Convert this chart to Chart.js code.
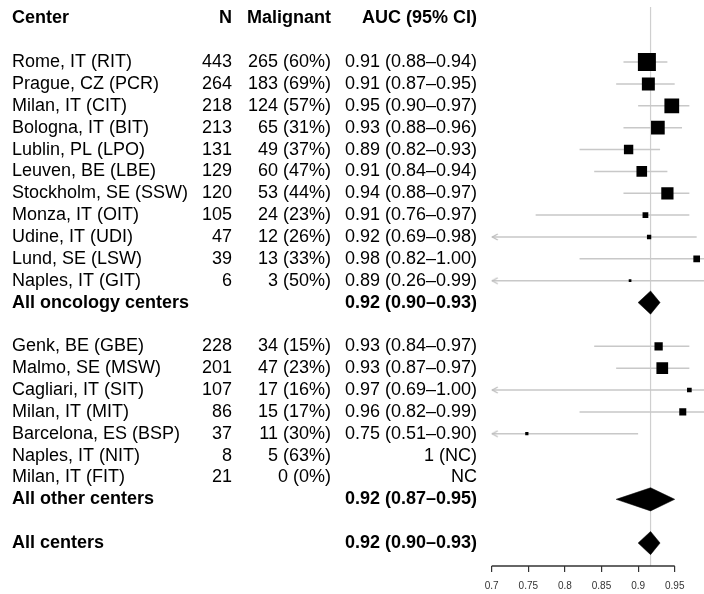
<!DOCTYPE html>
<html>
<head>
<meta charset="utf-8">
<script src="https://cdn.jsdelivr.net/npm/chart.js@4"></script>
<style>
  html, body { margin: 0; padding: 0; background: #fff; }
</style>
</head>
<body>
<canvas id="forestChart" width="704" height="594"></canvas>
<script>
// ----------------- Data -----------------
const oncologyCenters = ['Rome, IT (RIT)', 'Prague, CZ (PCR)', 'Milan, IT (CIT)', 'Bologna, IT (BIT)',
  'Lublin, PL (LPO)', 'Leuven, BE (LBE)', 'Stockholm, SE (SSW)', 'Monza, IT (OIT)',
  'Udine, IT (UDI)', 'Lund, SE (LSW)', 'Naples, IT (GIT)'];
const oncologyN = [443, 264, 218, 213, 131, 129, 120, 105, 47, 39, 6];
const oncologyMalignant = ['265 (60%)', '183 (69%)', '124 (57%)', '65 (31%)', '49 (37%)', '60 (47%)',
  '53 (44%)', '24 (23%)', '12 (26%)', '13 (33%)', '3 (50%)'];
const oncologyAucText = ['0.91 (0.88\u20130.94)', '0.91 (0.87\u20130.95)', '0.95 (0.90\u20130.97)',
  '0.93 (0.88\u20130.96)', '0.89 (0.82\u20130.93)', '0.91 (0.84\u20130.94)', '0.94 (0.88\u20130.97)',
  '0.91 (0.76\u20130.97)', '0.92 (0.69\u20130.98)', '0.98 (0.82\u20131.00)', '0.89 (0.26\u20130.99)'];
const oncologyAuc = [0.912, 0.914, 0.946, 0.927, 0.887, 0.905, 0.940, 0.910, 0.915, 0.980, 0.889];
const oncologyLower = [0.88, 0.87, 0.90, 0.88, 0.82, 0.84, 0.88, 0.76, 0.69, 0.82, 0.26];
const oncologyUpper = [0.94, 0.95, 0.97, 0.96, 0.93, 0.94, 0.97, 0.97, 0.98, 1.00, 0.99];
const oncologyWeight = [1.00, 0.72, 0.82, 0.76, 0.52, 0.59, 0.68, 0.32, 0.24, 0.37, 0.15];

const otherCenters = ['Genk, BE (GBE)', 'Malmo, SE (MSW)', 'Cagliari, IT (SIT)', 'Milan, IT (MIT)',
  'Barcelona, ES (BSP)', 'Naples, IT (NIT)', 'Milan, IT (FIT)'];
const otherN = [228, 201, 107, 86, 37, 8, 21];
const otherMalignant = ['34 (15%)', '47 (23%)', '17 (16%)', '15 (17%)', '11 (30%)', '5 (63%)', '0 (0%)'];
const otherAucText = ['0.93 (0.84\u20130.97)', '0.93 (0.87\u20130.97)', '0.97 (0.69\u20131.00)',
  '0.96 (0.82\u20130.99)', '0.75 (0.51\u20130.90)', '1 (NC)', 'NC'];
const otherAuc = [0.928, 0.933, 0.970, 0.961, 0.748, null, null];
const otherLower = [0.84, 0.87, 0.69, 0.82, 0.51, null, null];
const otherUpper = [0.97, 0.97, 1.00, 0.99, 0.90, null, null];
const otherWeight = [0.46, 0.65, 0.26, 0.39, 0.18, null, null];

const summaryLabels = ['All oncology centers', 'All other centers', 'All centers'];
const summaryAucText = ['0.92 (0.90\u20130.93)', '0.92 (0.87\u20130.95)', '0.92 (0.90\u20130.93)'];
const summaryAuc = [0.917, 0.917, 0.917];
const summaryLower = [0.90, 0.87, 0.90];
const summaryUpper = [0.93, 0.95, 0.93];

const headers = ['Center', 'N', 'Malignant', 'AUC (95% CI)'];
const xTicks = [0.7, 0.75, 0.8, 0.85, 0.9, 0.95];
const refAuc = 0.917;

// ----------------- Rows -----------------
const rows = [];
let pos = 0;
function addCenters(names, n, mal, txt, auc, lo, hi, w) {
  names.forEach((name, i) => {
    rows.push({ y: pos++, name, n: n[i], mal: mal[i], txt: txt[i], auc: auc[i], lo: lo[i], hi: hi[i], w: w[i] });
  });
}
function addSummary(i) {
  rows.push({ y: pos++, name: summaryLabels[i], txt: summaryAucText[i], auc: summaryAuc[i],
    lo: summaryLower[i], hi: summaryUpper[i], summary: true });
}
addCenters(oncologyCenters, oncologyN, oncologyMalignant, oncologyAucText, oncologyAuc, oncologyLower, oncologyUpper, oncologyWeight);
addSummary(0);
pos++;
addCenters(otherCenters, otherN, otherMalignant, otherAucText, otherAuc, otherLower, otherUpper, otherWeight);
addSummary(1);
pos++;
addSummary(2);

const headerRow = -2;
const yMin = -2.52, yMax = 23.05;
const xMin = 0.7, xMax = 0.99;
const boxSide = 18;       // px side of the heaviest box
const diamondHalf = 0.53; // half height of summary diamonds, in rows

// ----------------- Datasets -----------------
const studyRows = rows.filter(r => !r.summary && r.auc != null);

const ciData = [];
studyRows.forEach(r => {
  ciData.push({ x: r.lo, y: r.y }, { x: r.hi, y: r.y }, { x: null, y: null });
});

const arrowRows = studyRows.filter(r => r.lo < xMin);

// little "<" head, tip at the centre of the image
const arrowImg = document.createElement('canvas');
arrowImg.width = 14;
arrowImg.height = 8;
const actx = arrowImg.getContext('2d');
actx.strokeStyle = '#bdbdbd';
actx.lineWidth = 1.2;
actx.beginPath();
actx.moveTo(13, 1);
actx.lineTo(7.5, 4);
actx.lineTo(13, 7);
actx.stroke();

const datasets = [
  {
    type: 'scatter',
    data: studyRows.map(r => ({ x: r.auc, y: r.y })),
    pointStyle: 'rect',
    pointRadius: studyRows.map(r => r.w * boxSide / 1.414),
    backgroundColor: '#000',
    borderWidth: 0,
    order: 1
  },
  ...rows.filter(r => r.summary).map(r => ({
    type: 'line',
    data: [
      { x: r.lo, y: r.y }, { x: r.auc, y: r.y - diamondHalf },
      { x: r.hi, y: r.y }, { x: r.auc, y: r.y + diamondHalf }, { x: r.lo, y: r.y }
    ],
    borderColor: '#000',
    borderWidth: 0.5,
    backgroundColor: '#000',
    fill: 'shape',
    pointRadius: 0,
    tension: 0,
    order: 1
  })),
  {
    type: 'scatter',
    data: arrowRows.map(r => ({ x: xMin, y: r.y })),
    pointStyle: arrowImg,
    pointRadius: 4,
    order: 2
  },
  {
    type: 'line',
    data: ciData,
    borderColor: '#c8c8c8',
    borderWidth: 1.5,
    pointRadius: 0,
    spanGaps: false,
    order: 3
  },
  {
    type: 'line',
    data: [{ x: refAuc, y: yMin }, { x: refAuc, y: yMax }],
    borderColor: '#cfcfcf',
    borderWidth: 1.2,
    pointRadius: 0,
    order: 4
  }
];

// ----------------- Text columns + axis line -----------------
const FONT = '"Liberation Sans", Arial, Helvetica, sans-serif';
const tablePlugin = {
  id: 'forestTable',
  afterDraw(chart) {
    const c = chart.ctx;
    const ys = chart.scales.y;
    const xs = chart.scales.x;

    // axis line only across the tick range
    c.save();
    c.strokeStyle = '#333';
    c.lineWidth = 1.5;
    c.beginPath();
    c.moveTo(xs.getPixelForValue(xTicks[0]), xs.top);
    c.lineTo(xs.getPixelForValue(xTicks[xTicks.length - 1]), xs.top);
    c.stroke();

    c.fillStyle = '#000';
    c.textBaseline = 'middle';
    const colX = [12, 232, 331, 477];
    const hy = ys.getPixelForValue(headerRow);
    c.font = 'bold 18px ' + FONT;
    headers.forEach((h, i) => {
      c.textAlign = i === 0 ? 'left' : 'right';
      c.fillText(h, colX[i], hy);
    });

    rows.forEach(r => {
      const py = ys.getPixelForValue(r.y);
      c.font = (r.summary ? 'bold ' : '') + '18px ' + FONT;
      c.textAlign = 'left';
      c.fillText(r.name, colX[0], py);
      c.textAlign = 'right';
      if (r.n != null) c.fillText(String(r.n), colX[1], py);
      if (r.mal) c.fillText(r.mal, colX[2], py);
      c.fillText(r.txt, colX[3], py);
    });
    c.restore();
  }
};

// ----------------- Chart -----------------
const ctx = document.getElementById('forestChart').getContext('2d');
new Chart(ctx, {
  data: { datasets },
  options: {
    responsive: false,
    animation: false,
    devicePixelRatio: 1,
    events: [],
    layout: { autoPadding: false, padding: { left: 491.7, top: 7, right: 0, bottom: 0 } },
    plugins: { legend: { display: false }, tooltip: { enabled: false } },
    scales: {
      x: {
        type: 'linear',
        min: xMin,
        max: xMax,
        border: { display: false },
        grid: { display: true, drawOnChartArea: false, drawTicks: true, tickLength: 6, color: '#333', lineWidth: 1.2 },
        ticks: {
          autoSkip: false,
          maxRotation: 0,
          padding: 8,
          color: '#333',
          font: { family: FONT, size: 10 },
          callback: v => String(v)
        },
        afterBuildTicks: scale => { scale.ticks = xTicks.map(v => ({ value: v })); },
        afterFit: scale => {
          scale.height = 28;
          scale.paddingLeft = 0;
          scale.paddingRight = 0;
        }
      },
      y: {
        type: 'linear',
        reverse: true,
        min: yMin,
        max: yMax,
        display: false
      }
    }
  },
  plugins: [tablePlugin]
});
</script>
</body>
</html>
